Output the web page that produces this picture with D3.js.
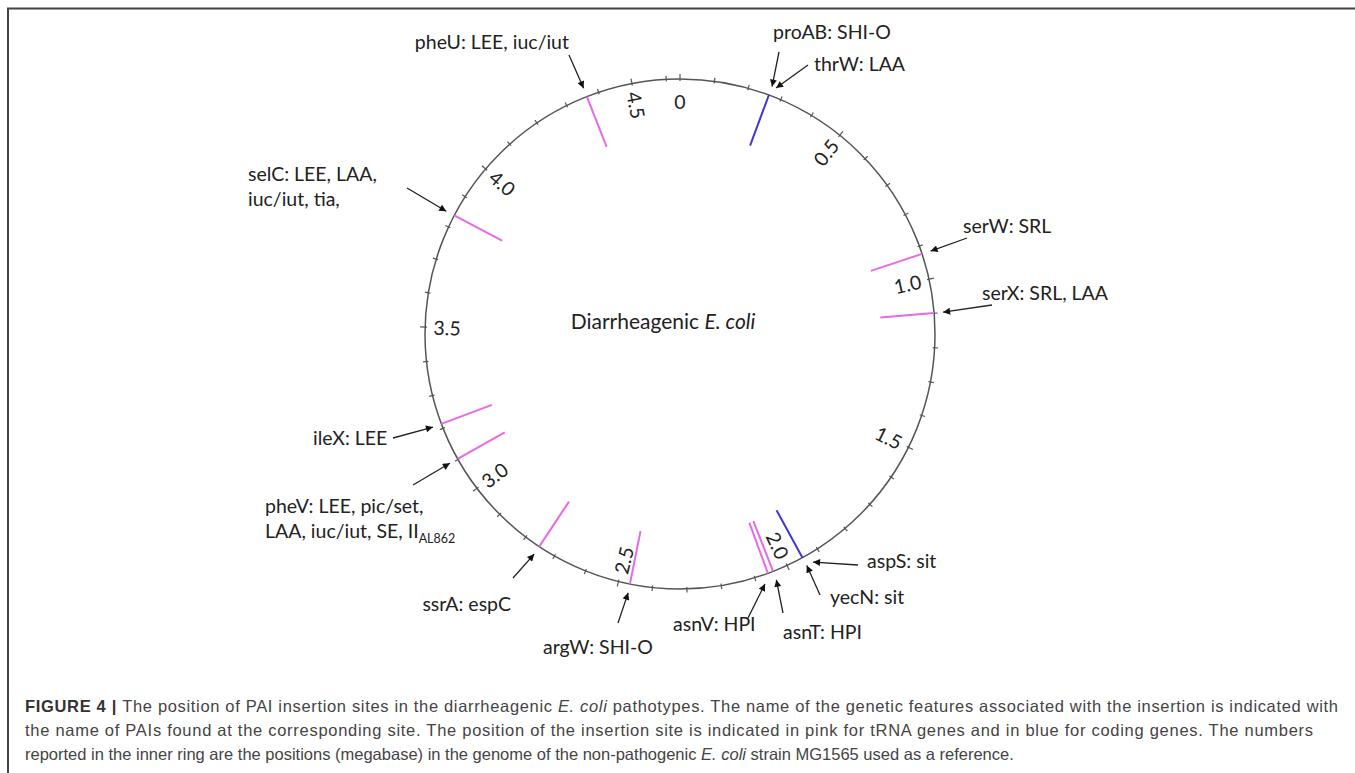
<!DOCTYPE html>
<html>
<head>
    <title>PAI insertion sites - diarrheagenic E. coli</title>
    <script src="https://d3js.org/d3.v7.min.js"></script>
    <style>
        body { margin: 0; background: #fff; }
        .ring { fill: none; stroke: #555; stroke-width: 1.5px; }
        .tick { stroke: #555; stroke-width: 1.2px; }
        .lab { font-family: Lato, "Open Sans", sans-serif; font-size: 19.5px; fill: #222; }
        .arrow { stroke: #222; stroke-width: 1.3px; }
        .caption { font-family: "Liberation Sans", Arial, sans-serif; font-size: 16.5px; fill: #444; }
    </style>
</head>
<body>
<script>
    // genome of the reference strain, in megabases
    var genomeSize = 4.64;
    var tickLabels = ["0", "0.5", "1.0", "1.5", "2.0", "2.5", "3.0", "3.5", "4.0", "4.5"];

    // insertion sites drawn on the ring
    var sitePositions = [0.263, 0.924, 1.099, 1.950, 2.044, 2.060, 2.466, 2.752, 3.102, 3.214, 3.837, 4.364];
    var siteTypes = ["coding", "tRNA", "tRNA", "coding", "tRNA", "tRNA", "tRNA", "tRNA", "tRNA", "tRNA", "tRNA", "tRNA"];

    // labelled genes and the PAIs found there
    var geneNames = ["pheU", "proAB", "thrW", "serW", "serX", "selC", "ileX", "pheV", "ssrA", "argW", "asnV", "asnT", "yecN", "aspS"];
    var genePAIs = ["LEE, iuc/iut", "SHI-O", "LAA", "SRL", "SRL, LAA", "LEE, LAA, iuc/iut, tia,", "LEE",
        "LEE, pic/set, LAA, iuc/iut, SE, II", "espC", "SHI-O", "HPI", "HPI", "sit", "sit"];
    var genePositions = [4.364, 0.263, 0.263, 0.924, 1.099, 3.837, 3.214, 3.102, 2.752, 2.466, 2.060, 2.044, 1.950, 1.950];

    var W = 1355, H = 773;
    var cx = 680, cy = 334, R = 255;
    var colors = {tRNA: "#e66ae6", coding: "#4036d2"};

    // where each label text and arrow tail sits (layout only)
    var layout = {
        pheU:  {x: 569, y: 49, anchor: "end", tail: [569, 55]},
        proAB: {x: 773, y: 39, anchor: "start", tail: [779, 52]},
        thrW:  {x: 814, y: 71, anchor: "start", tail: [808, 65], shift: 0.012},
        serW:  {x: 963, y: 233, anchor: "start", tail: [967, 238]},
        serX:  {x: 982, y: 300, anchor: "start", tail: [992, 305]},
        selC:  {x: 248, y: 181, anchor: "start", tail: [407, 188], breakAt: 2},
        ileX:  {x: 313, y: 445, anchor: "start", tail: [393, 438]},
        pheV:  {x: 265, y: 513, anchor: "start", tail: [413, 485], breakAt: 2, sub: "AL862"},
        ssrA:  {x: 511, y: 611, anchor: "end", tail: [513, 578]},
        argW:  {x: 543, y: 654, anchor: "start", tail: [618, 623]},
        asnV:  {x: 673, y: 631, anchor: "start", tail: [748, 618], shift: 0.018},
        asnT:  {x: 783, y: 639, anchor: "start", tail: [783, 613]},
        yecN:  {x: 830, y: 604, anchor: "start", tail: [820, 595]},
        aspS:  {x: 867, y: 568, anchor: "start", tail: [858, 565], shift: -0.02}
    };

    var svg = d3.select("body").append("svg")
        .attr("width", W)
        .attr("height", H);

    svg.append("rect").attr("width", W).attr("height", H).attr("fill", "#fff");

    // frame
    svg.append("path")
        .attr("d", "M8,773 V8.5 H1355")
        .attr("fill", "none")
        .attr("stroke", "#444")
        .attr("stroke-width", 2);

    var angle = d3.scaleLinear().domain([0, genomeSize]).range([0, 2 * Math.PI]);
    function pt(mb, r) {
        var a = angle(mb);
        return [cx + r * Math.sin(a), cy - r * Math.cos(a)];
    }

    var defs = svg.append("defs");
    defs.append("marker")
        .attr("id", "head")
        .attr("viewBox", "0 0 10 10")
        .attr("refX", 10).attr("refY", 5)
        .attr("markerWidth", 8).attr("markerHeight", 7)
        .attr("markerUnits", "userSpaceOnUse")
        .attr("orient", "auto")
        .append("path")
        .attr("d", "M0,0 L10,5 L0,10 z")
        .attr("fill", "#111");

    var g = svg.append("g");

    g.append("circle")
        .attr("class", "ring")
        .attr("cx", cx).attr("cy", cy).attr("r", R);

    // 0.1 Mb ticks
    var ticks = d3.range(0, genomeSize, 0.1);
    g.selectAll(".tick")
        .data(ticks)
        .enter()
        .append("line")
        .attr("class", "tick")
        .each(function(d, i) {
            var major = i % 5 === 0;
            var p1 = pt(d, R - 2), p2 = pt(d, R + (major ? 5 : 3.5));
            d3.select(this)
                .attr("x1", p1[0]).attr("y1", p1[1])
                .attr("x2", p2[0]).attr("y2", p2[1]);
        });

    // position labels inside the ring
    g.selectAll(".pos")
        .data(tickLabels)
        .enter()
        .append("text")
        .attr("class", "lab")
        .attr("text-anchor", "middle")
        .attr("dominant-baseline", "central")
        .attr("transform", function(d) {
            var v = +d, p = pt(v, 233);
            var deg = angle(v) * 180 / Math.PI;
            var rot = deg < 180 ? deg - 90 : deg - 270;
            if (v === 0) rot = 0; // origin label kept upright
            return "translate(" + p[0] + "," + p[1] + ") rotate(" + rot + ")";
        })
        .text(d => d);

    // insertion sites
    g.selectAll(".site")
        .data(sitePositions)
        .enter()
        .append("line")
        .attr("stroke", (d, i) => colors[siteTypes[i]])
        .attr("stroke-width", 2)
        .attr("x1", d => pt(d, R)[0])
        .attr("y1", d => pt(d, R)[1])
        .attr("x2", d => pt(d, R - 54)[0])
        .attr("y2", d => pt(d, R - 54)[1]);

    // arrows to the sites
    geneNames.forEach(function(name, i) {
        var L = layout[name];
        var tip = pt(genePositions[i] + (L.shift || 0), R + 9);
        g.append("line")
            .attr("class", "arrow")
            .attr("x1", L.tail[0]).attr("y1", L.tail[1])
            .attr("x2", tip[0]).attr("y2", tip[1])
            .attr("marker-end", "url(#head)");

        var full = name + ": " + genePAIs[i];
        var t = g.append("text")
            .attr("class", "lab")
            .attr("text-anchor", L.anchor)
            .attr("x", L.x).attr("y", L.y);
        if (L.breakAt) {
            var parts = full.split(", ");
            var first = parts.slice(0, L.breakAt).join(", ") + ",";
            var rest = parts.slice(L.breakAt).join(", ");
            t.append("tspan").attr("x", L.x).text(first);
            t.append("tspan").attr("x", L.x).attr("dy", 25).text(rest);
            if (L.sub) {
                t.append("tspan")
                    .attr("dy", 5)
                    .style("font-size", "12.5px")
                    .text(L.sub);
            }
        } else {
            t.text(full);
        }
    });

    // centre title
    var title = g.append("text")
        .attr("class", "lab")
        .style("font-size", "21px")
        .attr("x", 663).attr("y", 329)
        .attr("text-anchor", "middle");
    title.append("tspan").text("Diarrheagenic ");
    title.append("tspan").style("font-style", "italic").text("E. coli");

    // caption (first two lines justified)
    var cap1 = svg.append("text").attr("class", "caption").attr("x", 25).attr("y", 712)
        .attr("textLength", 1313).attr("lengthAdjust", "spacing");
    cap1.append("tspan").style("font-weight", "bold").attr("fill", "#333").text("FIGURE 4 | ");
    cap1.append("tspan").text("The position of PAI insertion sites in the diarrheagenic ");
    cap1.append("tspan").style("font-style", "italic").text("E. coli");
    cap1.append("tspan").text(" pathotypes. The name of the genetic features associated with the insertion is indicated with");

    svg.append("text").attr("class", "caption").attr("x", 25).attr("y", 736)
        .attr("textLength", 1288).attr("lengthAdjust", "spacing")
        .text("the name of PAIs found at the corresponding site. The position of the insertion site is indicated in pink for tRNA genes and in blue for coding genes. The numbers");

    var cap3 = svg.append("text").attr("class", "caption").attr("x", 25).attr("y", 760);
    cap3.append("tspan").text("reported in the inner ring are the positions (megabase) in the genome of the non-pathogenic ");
    cap3.append("tspan").style("font-style", "italic").text("E. coli");
    cap3.append("tspan").text(" strain MG1565 used as a reference.");
</script>
</body>
</html>
